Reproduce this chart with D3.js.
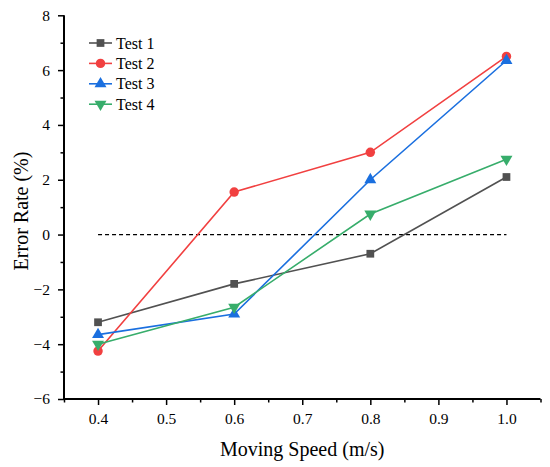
<!DOCTYPE html>
<html>
<head>
<meta charset="utf-8">
<script src="https://cdn.jsdelivr.net/npm/d3@7"></script>
<style>
  body { margin: 0; background: #fff; }
</style>
</head>
<body>
<svg></svg>
<script>
// data
var speeds = [0.4, 0.6, 0.8, 1.0];
var seriesNames = ["Test 1", "Test 2", "Test 3", "Test 4"];
var test1 = [-3.2, -1.8, -0.7, 2.1];
var test2 = [-4.25, 1.55, 3.0, 6.5];
var test3 = [-3.65, -2.9, 2.0, 6.35];
var test4 = [-4.0, -2.65, 0.75, 2.75];
var xTicks = [0.4, 0.5, 0.6, 0.7, 0.8, 0.9, 1.0];
var yTicks = [-6, -4, -2, 0, 2, 4, 6, 8];

var colors = ["#515151", "#F14040", "#1A6FDF", "#37AD6B"];
var symbols = [d3.symbolSquare, d3.symbolCircle, d3.symbolTriangle, d3.symbolTriangle];
var font = "Liberation Serif";

var screen = {width: 550, height: 467};
var margins = {left: 64, right: 10, top: 15, bottom: 68};

var svg = d3.select("svg")
    .attr("width", screen.width)
    .attr("height", screen.height)
    .attr("font-family", font);

var xScale = d3.scaleLinear()
    .domain([0.35, 1.05])
    .range([margins.left, 540.5]);

var yScale = d3.scaleLinear()
    .domain([-6, 8])
    .range([399, 15.3]);

// minor ticks halfway between the labelled ones
var xMinor = d3.range(0.35, 1.051, 0.05).filter(function(v) {
    return Math.abs(Math.round(v * 10) - v * 10) > 0.01;
});
var yMinor = d3.range(-5, 8, 2);

var xAxis = svg.append("g")
    .attr("transform", "translate(0," + yScale(-6) + ")")
    .call(d3.axisBottom(xScale).tickValues(xTicks).tickSize(6).tickPadding(8)
          .tickFormat(d3.format(".1f")));

svg.append("g")
    .attr("transform", "translate(0," + yScale(-6) + ")")
    .call(d3.axisBottom(xScale).tickValues(xMinor).tickSize(3.5).tickFormat(""))
    .call(function(g) { g.select(".domain").remove(); });

var yAxis = svg.append("g")
    .attr("transform", "translate(" + margins.left + ",0)")
    .call(d3.axisLeft(yScale).tickValues(yTicks).tickSize(6).tickPadding(8)
          .tickFormat(function(d) { return d < 0 ? "\u2212" + Math.abs(d) : d; }));

svg.append("g")
    .attr("transform", "translate(" + margins.left + ",0)")
    .call(d3.axisLeft(yScale).tickValues(yMinor).tickSize(3.5).tickFormat(""))
    .call(function(g) { g.select(".domain").remove(); });

svg.selectAll("g").attr("font-family", font);
svg.selectAll(".domain").attr("stroke-width", 2);
xAxis.select(".domain").attr("d", "M" + (margins.left - 1) + ",0H540.5");
yAxis.select(".domain").attr("d", "M0,15.3V" + (yScale(-6) + 1));
svg.selectAll(".tick line").attr("stroke-width", 1.5);
svg.selectAll(".tick text")
    .attr("font-size", 15.5)
    .attr("font-family", font)
    .attr("fill", "#000");

// zero reference line
svg.append("line")
    .attr("x1", xScale(0.4)).attr("x2", xScale(1.0))
    .attr("y1", yScale(0)).attr("y2", yScale(0))
    .attr("stroke", "#000")
    .attr("stroke-width", 1.2)
    .attr("stroke-dasharray", "4,3");

var allSeries = [test1, test2, test3, test4];

var line = d3.line()
    .x(function(d, i) { return xScale(speeds[i]); })
    .y(function(d) { return yScale(d); });

var markerPath = function(i) {
    var size = i == 1 ? 70 : (i == 0 ? 60 : 62);
    return d3.symbol().type(symbols[i]).size(size)();
};
var markerRotate = function(i) {
    return i == 3 ? " rotate(180)" : "";
};

allSeries.forEach(function(vals, i) {
    svg.append("path")
        .datum(vals)
        .attr("d", line)
        .attr("fill", "none")
        .attr("stroke", colors[i])
        .attr("stroke-width", 1.6);

    svg.selectAll(".m" + i)
        .data(vals)
        .enter()
        .append("path")
        .attr("class", "m" + i)
        .attr("d", markerPath(i))
        .attr("fill", colors[i])
        .attr("transform", function(d, j) {
            return "translate(" + xScale(speeds[j]) + "," + yScale(d) + ")" + markerRotate(i);
        });
});

// legend
var legend = svg.append("g");
seriesNames.forEach(function(name, i) {
    var y = 43 + i * 20.4;
    legend.append("line")
        .attr("x1", 89).attr("x2", 112)
        .attr("y1", y).attr("y2", y)
        .attr("stroke", colors[i])
        .attr("stroke-width", 1.6);
    legend.append("path")
        .attr("d", markerPath(i))
        .attr("fill", colors[i])
        .attr("transform", "translate(100.5," + y + ")" + markerRotate(i));
    legend.append("text")
        .attr("x", 116)
        .attr("y", y + 5.5)
        .attr("font-family", font)
        .attr("font-size", 16)
        .text(name);
});

// axis titles
svg.append("text")
    .attr("x", (margins.left + 540.5) / 2)
    .attr("y", 456)
    .attr("text-anchor", "middle")
    .attr("font-family", font)
    .attr("font-size", 20)
    .text("Moving Speed (m/s)");

svg.append("text")
    .attr("transform", "translate(28,211) rotate(-90)")
    .attr("text-anchor", "middle")
    .attr("font-family", font)
    .attr("font-size", 20)
    .text("Error Rate (%)");
</script>
</body>
</html>
